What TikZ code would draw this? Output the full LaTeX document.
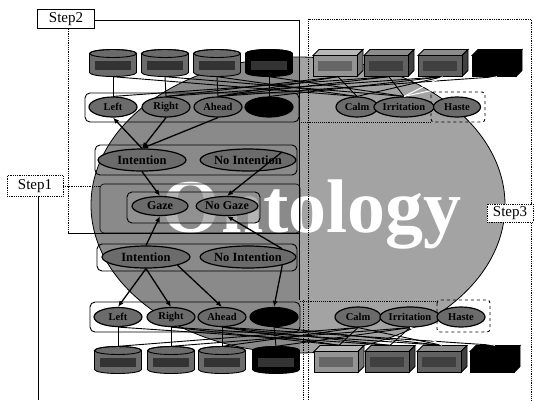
\documentclass[tikz,border=0pt]{standalone}
\usepackage{fontspec}
\setmainfont{Liberation Serif}
\usetikzlibrary{shapes.geometric,arrows.meta}

\newcommand\mycyl[4]{% name, x, y, fill
  \node[minimum width=47pt,minimum height=27pt,inner sep=0pt] (#1) at (#2,#3) {};
  \begin{scope}[shift={(#2,#3)}]
    \filldraw[fill=#4,line width=0.9pt] (-23.5,-9.5) -- (-23.5,9.5)
      arc[start angle=180,end angle=0,x radius=23.5,y radius=4] -- (23.5,-9.5)
      arc[start angle=0,end angle=-180,x radius=23.5,y radius=4] -- cycle;
    \draw[line width=0.9pt] (0,-9.5) ellipse[x radius=23.5,y radius=4];
    \fill[black!80] (-18,-2) rectangle (18,7);
  \end{scope}
}
\newcommand\mycub[7]{% name, x, y, front, top, side, band
  \node[minimum width=50pt,minimum height=27pt,inner sep=0pt] (#1) at (#2,#3) {};
  \begin{scope}[shift={(#2,#3)},line width=0.8pt]
    \filldraw[fill=#5] (-25,-7.5) -- (-19,-13.5) -- (25,-13.5) -- (19,-7.5) -- cycle;
    \filldraw[fill=#6] (19,-7.5) -- (25,-13.5) -- (25,7.5) -- (19,13.5) -- cycle;
    \filldraw[fill=#4] (-25,-7.5) rectangle (19,13.5);
    \fill[#7] (-20,-2) rectangle (14,8);
  \end{scope}
}

\begin{document}
\begin{tikzpicture}[x=1pt,y=-1pt,
  ell/.style={ellipse,draw=black,line width=1.2pt,fill=black!58,inner sep=0pt,
    minimum width=48pt,minimum height=20pt,font=\fontsize{10.5}{11}\selectfont\bfseries},
  bigell/.style={ell,minimum width=88pt,minimum height=22pt,font=\fontsize{12.5}{13}\selectfont\bfseries},
  gazeell/.style={ell,minimum width=56pt,minimum height=19pt,font=\fontsize{12}{13}\selectfont\bfseries},
  blackell/.style={ell,fill=black},
  grp/.style={draw=black,line width=0.9pt,rounded corners=5pt},
  dgrp/.style={draw=black,line width=0.9pt,densely dotted,rounded corners=3pt},
  stepbox/.style={fill=white,inner sep=0pt,minimum height=19pt,font=\fontsize{15}{16}\selectfont},
  arr/.style={-{Latex[length=6pt,width=5pt]},line width=1.3pt},
  tl/.style={line width=0.9pt},
  wl/.style={line width=1pt,white},
]
\useasboundingbox (0,0) rectangle (534,400);
\fill[white] (0,0) rectangle (534,400);

% background ontology ellipse
\begin{scope}
  \clip (298,205) ellipse [x radius=207, y radius=148];
  \fill[black!46] (0,0) rectangle (300,400);
  \fill[black!36] (300,0) rectangle (534,400);
\end{scope}
\draw[line width=0.8pt] (298,205) ellipse [x radius=207, y radius=148];
\node[font=\fontsize{76}{76}\selectfont\bfseries,text=white,anchor=base east,inner sep=0pt] (ontology) at (462,232) {Ontology};

% step regions
\node[stepbox,draw,line width=0.8pt,minimum width=57pt] (step2) at (66,19) {Step2};
\node[stepbox,draw,densely dotted,line width=0.8pt,minimum width=56pt,minimum height=21pt] (step1) at (35,186) {Step1};
\coordinate (s2a) at (299,20);
\coordinate (s2b) at (299,300);
\coordinate (s2c) at (68,233);
\coordinate (s2d) at (299,233);
\coordinate (s2e) at (303,300);
\coordinate (s2f) at (303,400);
\coordinate (s1a) at (100,186);
\coordinate (s1b) at (38,400);
\coordinate (s3a) at (308,400);
\coordinate (s3b) at (308,19);
\coordinate (s3c) at (531,19);
\coordinate (s3d) at (531,400);
\draw[line width=0.6pt,rounded corners=4pt] (100,184) rectangle (300,233);
\draw[line width=0.8pt] (step2.east |- s2a) -- (s2a) -- (s2b);
\draw[line width=0.8pt,densely dotted] (s2e) -- (s2f);
\draw[line width=0.8pt,densely dotted] (s2c |- step2.south) -- (s2c);
\draw[line width=0.8pt] (s2c) -- (s2d);
\draw[line width=0.8pt,densely dotted] (step1.east) -- (s1a);
\draw[line width=0.8pt] (step1.south -| s1b) -- (s1b);
\draw[line width=0.8pt,densely dotted] (s3a) -- (s3b) -- (s3c) -- (s3d);
\node[stepbox,draw,densely dotted,line width=0.8pt,minimum width=46pt,minimum height=18pt] (step3) at (510,213) {Step3};

% group boxes
\draw[grp] (85,93) rectangle (299,122);
\draw[line width=0.9pt,densely dotted] (299,122) -- (431,122);
\draw[dgrp,dashed] (431,92) rectangle (485,122);
\draw[grp] (95,145) rectangle (297,175);
\filldraw[grp,fill=black!42,fill opacity=0.7] (127,192) rectangle (260,223);
\draw[grp] (97,244) rectangle (297,271);
\draw[grp] (90,302) rectangle (300,332);
\draw[line width=0.9pt,densely dotted] (300,301) -- (437,301);
\draw[dgrp,dashed] (437,300) rectangle (490,332);

% top stores
\mycyl{c1}{113}{63}{black!58}
\mycyl{c2}{165}{63}{black!58}
\mycyl{c3}{217}{63}{black!58}
\mycyl{c4}{269}{63}{black}
\mycub{k1}{338}{63}{black!42}{black!28}{black!55}{black!60}
\mycub{k2}{389}{63}{black!62}{black!45}{black!75}{black!75}
\mycub{k3}{443}{63}{black!62}{black!45}{black!75}{black!75}
\mycub{k4}{497}{63}{black}{black}{black}{black}

% bottom stores
\mycyl{d1}{118}{360}{black!58}
\mycyl{d2}{171}{360}{black!58}
\mycyl{d3}{222}{360}{black!58}
\mycyl{d4}{276}{360}{black}
\mycub{m1}{339}{359}{black!42}{black!28}{black!55}{black!60}
\mycub{m2}{390}{359}{black!62}{black!45}{black!75}{black!75}
\mycub{m3}{442}{359}{black!62}{black!45}{black!75}{black!75}
\mycub{m4}{495}{359}{black}{black}{black}{black}

% top ellipses
\node[ell] (tl1) at (113,107) {Left};
\node[ell] (tl2) at (166,107) {Right};
\node[ell] (tl3) at (218,107) {Ahead};
\node[blackell] (tl4) at (269,107) {};
\node[ell,minimum width=42pt] (tcalm) at (357,107) {Calm};
\node[ell] (tirr) at (404,107) {Irritation};
\node[ell,minimum width=47pt] (thaste) at (457,107) {Haste};

\node[bigell] (tint) at (142,160) {Intention};
\node[bigell,minimum width=89pt] (tnoint) at (248,160) {No Intention};
\node[gazeell] (gaze) at (160,206) {Gaze};
\node[gazeell,minimum width=57pt] (nogaze) at (227,206) {No Gaze};
\node[bigell] (bint) at (146,257) {Intention};
\node[bigell,minimum width=90pt] (bnoint) at (248,257) {No Intention};

% bottom ellipses
\node[ell,minimum height=19pt] (bl1) at (118,317) {Left};
\node[ell,minimum height=19pt] (bl2) at (171,317) {Right};
\node[ell,minimum height=19pt] (bl3) at (222,317) {Ahead};
\node[blackell,minimum height=19pt] (bl4) at (274,317) {};
\node[ell,minimum width=46pt] (bcalm) at (358,317) {Calm};
\node[ell,minimum width=46pt] (birr) at (410,317) {Irritation};
\node[ell] (bhaste) at (461,317) {Haste};

% top tangle
\foreach \i in {1,2,3,4} {\draw[tl] (c\i.south) -- (tl\i.north);}
\draw[tl] (k1.south) -- (tl2.north);
\draw[tl] (k1.south) -- (tl3.north);
\draw[tl] (k2.south) -- (tl1.north);
\draw[tl] (k2.south) -- (tl3.north);
\draw[tl] (k3.south) -- (tl2.north);
\draw[tl] (k3.south) -- (tl4.north);
\draw[tl] (k4.south) -- (tl3.north);
\draw[tl] (c1.south) -- (tcalm.north);
\draw[tl] (c2.south) -- (tirr.north);
\draw[tl] (c3.south) -- (tcalm.north);
\draw[tl] (c4.south) -- (tirr.north);
\draw[tl] (k1.south) -- (tcalm.north);
\draw[tl] (k2.south) -- (tirr.north);
\draw[tl] (k3.south) -- (tcalm.north);
\draw[wl] (k3.south) -- (tirr.north);
\draw[wl] (k4.south) -- (tirr.north);

% bottom tangle
\foreach \i in {1,2,3,4} {\draw[tl] (bl\i.south) -- (d\i.north);}
\draw[tl] (bl2.south) -- (m1.north);
\draw[tl] (bl3.south) -- (m1.north);
\draw[tl] (bl1.south) -- (m2.north);
\draw[tl] (bl3.south) -- (m2.north);
\draw[tl] (bl2.south) -- (m3.north);
\draw[tl] (bl4.south) -- (m3.north);
\draw[tl] (bl3.south) -- (m4.north);
\draw[tl] (bcalm.south) -- (d1.north);
\draw[tl] (birr.south) -- (d2.north);
\draw[tl] (bcalm.south) -- (d3.north);
\draw[tl] (birr.south) -- (d4.north);
\draw[tl] (bcalm.south) -- (m1.north);
\draw[tl] (birr.south) -- (m2.north);
\draw[tl] (bcalm.south) -- (m3.north);
\draw[wl] (birr.south) -- (m3.north);
\draw[wl] (birr.south) -- (m4.north);

% reasoning arrows
\draw[arr] (tint.north) -- (tl1.south);
\draw[arr] (tl2.south) -- (tint.north);
\draw[arr] (tl3.south) -- (tint.north);
\draw[arr] (tint.south) -- (gaze.north);
\draw[arr] (tnoint.north east) -- (nogaze.north);
\draw[arr] (bint.north) -- (gaze.south);
\draw[arr] (bnoint.north east) -- (nogaze.south);
\draw[arr] (bint.south) -- (bl1.north);
\draw[arr] (bint.south) -- (bl2.north);
\draw[arr] (bint.south east) -- (bl3.north);
\draw[arr] (bnoint.south east) -- (bl4.north);
\end{tikzpicture}
\end{document}
